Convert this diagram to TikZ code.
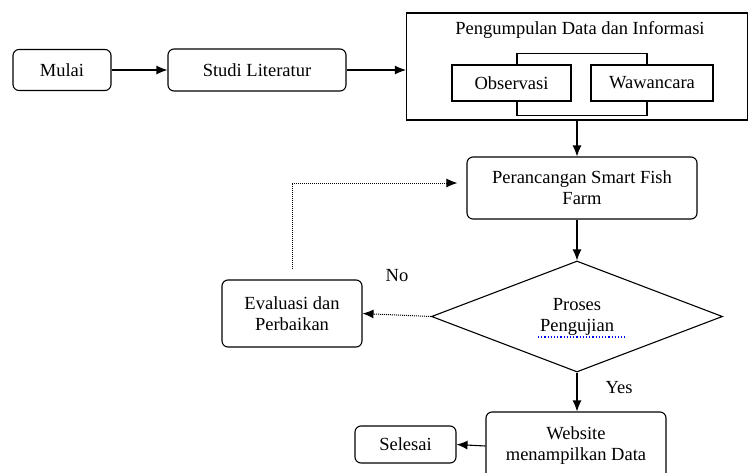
\documentclass[tikz,border=0pt]{standalone}
\usepackage{fontspec}
\setmainfont{Liberation Serif}
\usetikzlibrary{arrows.meta}
\usetikzlibrary{shapes.geometric}
\usetikzlibrary{calc}

\begin{document}
\begin{tikzpicture}[x=1pt, y=-1pt, font=\fontsize{18.5}{21}\selectfont,
  kotak/.style={draw, line width=1.1pt, rounded corners=6pt, align=center, inner sep=0pt},
  kotaktajam/.style={draw, line width=1.1pt, align=center, inner sep=0pt},
  panah/.style={line width=1.1pt, -{Latex[length=11pt,width=9pt]}},
  putus/.style={line width=1pt, densely dotted, -{Latex[length=11pt,width=9pt]}}]
\useasboundingbox (0,0) rectangle (748,472);

% baris atas
\node[kotak, minimum width=98pt, minimum height=41pt] (mulai) at (62,70) {Mulai};
\node[kotak, minimum width=178pt, minimum height=42pt] (studi) at (257,70) {Studi Literatur};
\node[kotaktajam, minimum width=341pt, minimum height=107pt] (kumpul) at (577,66.5) {};
\node (judul) at (580,30) {Pengumpulan Data dan Informasi};
\node[kotaktajam, minimum width=119pt, minimum height=36pt] (obs) at (511.5,83) {Observasi};
\node[kotaktajam, minimum width=122pt, minimum height=36pt] (waw) at (652,83) {Wawancara};
\draw[line width=1.1pt] ([xshift=5.5pt]obs.north) -- ++(0,-11) -| ([xshift=-5pt]waw.north);
\draw[line width=1.1pt] ([xshift=5.5pt]obs.south) -- ++(0,14) -| ([xshift=-5pt]waw.south);

% alur tengah
\node[kotak, minimum width=230pt, minimum height=62pt] (rancang) at (582,188) {Perancangan Smart Fish\\Farm};
\node[draw, diamond, line width=1.1pt, aspect=2.6, inner sep=0pt, align=center,
      minimum width=291pt, minimum height=111pt] (uji) at (577,316.5) {Proses\\Pengujian};
\draw[blue, dotted, line width=1.2pt] (538,337) -- (625,337);
\node[kotak, minimum width=140pt, minimum height=67pt] (eval) at (292,313.5) {Evaluasi dan\\Perbaikan};
\coordinate (fbawal) at (292,269);
\node (lblno) at (397,276) {No};
\node (lblyes) at (619,388) {Yes};

% baris bawah
\node[kotak, minimum width=180pt, minimum height=68pt] (web) at (576,446) {Website\\menampilkan Data};
\node[kotak, minimum width=101pt, minimum height=37pt] (selesai) at (405.5,444.5) {Selesai};

% panah
\draw[panah] (mulai) -- (studi);
\draw[panah] (studi.east) -- (studi.east -| kumpul.west);
\draw[panah] (kumpul.south) -- (rancang.north -| kumpul.south);
\draw[panah] (rancang.south -| uji.north) -- (uji.north);
\draw[putus] (uji.west) -- (eval.east);
\draw[putus, shorten >=9pt] (fbawal) |- ([yshift=5pt]rancang.west);
\draw[panah] (uji.south) -- (web.north -| uji.south);
\draw[panah] (web.west) -- (selesai.east);
\end{tikzpicture}
\end{document}
